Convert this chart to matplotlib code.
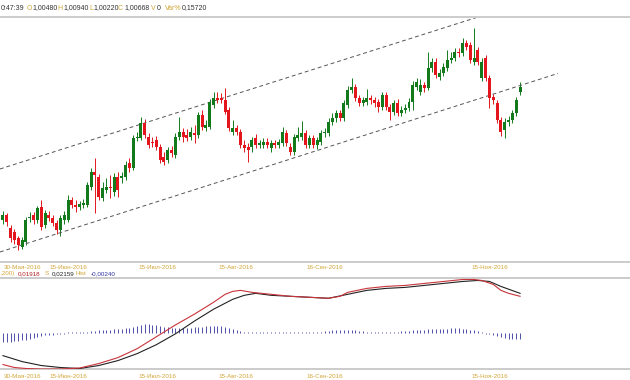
import numpy as np
import matplotlib.pyplot as plt

# candles: open, high, low, close (index points)
opens = [80, 85, 72, 68, 62, 53, 58, 82, 85, 80, 93, 75, 85, 82, 77, 70, 80, 80, 100, 95,
         93, 95, 95, 113, 128, 123, 102, 110, 113, 108, 123, 122, 123, 137, 132, 162, 162, 177, 163, 158,
         160, 153, 143, 140, 150, 145, 163, 168, 165, 163, 167, 165, 185, 172, 173, 195, 202, 202, 200, 190,
         168, 172, 168, 155, 153, 153, 162, 155, 155, 158, 152, 157, 155, 157, 167, 153, 148, 162, 163, 167,
         155, 162, 155, 158, 167, 167, 178, 182, 187, 182, 195, 210, 213, 202, 197, 198, 202, 200, 198, 193,
         205, 193, 188, 197, 187, 190, 192, 198, 213, 208, 215, 212, 232, 238, 223, 227, 232, 240, 242, 248,
         247, 257, 255, 238, 250, 222, 242, 222, 203, 197, 180, 170, 178, 180, 187, 208]
highs = [89, 87, 75, 71, 64, 63, 83, 88, 88, 94, 100, 90, 89, 85, 80, 85, 89, 105, 103, 100,
         99, 101, 118, 132, 142, 126, 118, 122, 125, 127, 128, 128, 139, 142, 165, 168, 183, 181, 167, 163,
         164, 156, 148, 153, 154, 167, 183, 172, 171, 173, 175, 188, 190, 180, 201, 208, 208, 207, 212, 193,
         180, 175, 171, 160, 157, 163, 166, 160, 162, 162, 160, 160, 161, 173, 170, 157, 166, 173, 179, 170,
         165, 165, 163, 170, 172, 182, 187, 190, 190, 200, 214, 222, 216, 205, 203, 211, 205, 203, 201, 208,
         208, 196, 200, 201, 194, 196, 202, 219, 222, 221, 218, 248, 242, 242, 231, 237, 250, 248, 252, 252,
         262, 260, 258, 272, 253, 242, 245, 225, 206, 200, 183, 182, 184, 190, 203, 218]
lows = [76, 74, 58, 56, 50, 51, 55, 78, 76, 77, 70, 72, 79, 74, 66, 64, 76, 78, 92, 88,
        90, 92, 93, 110, 87, 100, 99, 107, 102, 104, 103, 117, 120, 128, 130, 159, 160, 162, 152, 153,
        150, 137, 135, 137, 143, 142, 160, 158, 159, 160, 157, 162, 170, 169, 171, 192, 197, 197, 186, 169,
        165, 165, 152, 148, 138, 148, 152, 152, 152, 152, 148, 152, 152, 154, 154, 145, 145, 159, 160, 152,
        152, 152, 151, 155, 163, 164, 175, 178, 179, 179, 192, 207, 199, 194, 194, 195, 196, 193, 188, 190,
        190, 180, 185, 184, 184, 187, 189, 190, 210, 205, 208, 210, 228, 222, 220, 224, 229, 237, 239, 243,
        244, 250, 237, 235, 235, 219, 219, 192, 196, 177, 164, 162, 174, 177, 184, 205]
closes = [85, 78, 62, 60, 55, 60, 80, 83, 80, 92, 73, 87, 82, 77, 70, 82, 85, 100, 95, 93,
          96, 97, 115, 128, 125, 103, 112, 113, 112, 123, 110, 124, 135, 132, 162, 163, 177, 165, 155, 157,
          153, 140, 138, 150, 147, 163, 168, 163, 162, 168, 165, 185, 173, 175, 198, 202, 200, 200, 188, 172,
          172, 168, 155, 152, 150, 160, 155, 157, 158, 155, 157, 155, 158, 168, 157, 148, 163, 165, 167, 155,
          162, 155, 160, 167, 168, 178, 182, 187, 182, 197, 210, 213, 202, 197, 200, 202, 200, 197, 193, 205,
          193, 188, 197, 187, 190, 192, 198, 215, 218, 215, 212, 232, 238, 225, 227, 233, 240, 242, 248, 247,
          257, 253, 240, 242, 238, 238, 222, 202, 200, 180, 168, 178, 180, 187, 200, 213]

# trend channel (bar index, price)
upper_x = [-0.8, 123.8]
upper_y = [131, 282.7]
lower_x = [-0.8, 144.9]
lower_y = [48, 226.6]

# MACD panel
macd_idx = [0, 3, 6, 10, 15, 20, 25, 30, 35, 40, 45, 50, 55, 58, 60, 62, 65, 70, 75, 80,
            85, 88, 90, 95, 100, 105, 110, 115, 120, 123, 125, 128, 130, 132, 135]
macd_line = [-21, -24, -25, -25.5, -25.5, -24.5, -20, -14, -5, 7, 19, 30, 42, 50, 53, 54, 52, 50, 48, 47,
             46, 48, 52, 56, 58, 59, 61, 63, 65, 65, 64, 60, 54, 51, 48]
sig_idx = [0, 5, 10, 15, 20, 25, 30, 35, 40, 45, 50, 55, 60, 63, 66, 70, 75, 80, 85, 90,
           95, 100, 105, 110, 115, 120, 124, 127, 130, 135]
signal_line = [-12, -18, -22, -24, -25, -22, -17, -10, -1, 10, 23, 35, 45, 49, 51, 49, 48, 47, 46, 50,
               54, 56, 57, 59, 61, 63, 64, 63, 58, 51]
hist = [-9, -9, -9, -8, -8, -7, -7, -6, -5, -4,
        -3, -2, -2, -1.5, -1, -1, -1, 1, 1, 1,
        1, 1, 1.5, 2, 2.5, 3, 3, 3.5, 3.5, 4,
        4, 4.5, 5, 5, 6, 7, 8, 9, 9, 8.5,
        8, 7, 6.5, 6, 5.5, 5.5, 5, 5, 5.5, 5.5,
        6, 6, 6.5, 7, 7, 7.5, 7.5, 7, 6, 5,
        4, 3, 2, 1.5, 1, 1, 1, 1, 1, 1,
        1, 1, 1, 1, 1, 1, 1, 1, 1, 1,
        1, 1, 1, 1.5, 2, 2.5, 3, 3.5, 3.5, 3.5,
        3.5, 3.5, 3, 2.5, 2, 1.5, 1, 1, 1, 1,
        1, 1, 1, 1.5, 2, 2, 2.5, 3, 3, 3.5,
        3.5, 4, 4, 4, 4, 4.5, 4.5, 5, 5, 5,
        4.5, 4, 3.5, 3, 2, 1, -1, -1, -2, -3,
        -4, -5, -5.5, -6, -6, -6]

date_pos = [0, 12, 35, 56, 79, 122]
date_labels = ["30-Мая-2016", "15-Июн-2016", "15-Июл-2016", "15-Авг-2016", "16-Сен-2016", "15-Ноя-2016"]

W, H = 630, 380
GREEN = "#137a1c"
RED = "#e3161d"
GOLD = "#d2a73a"
FONT = "Liberation Sans"


def fy(py):
    return 1 - py / H


fig = plt.figure(figsize=(W / 100, H / 100), dpi=100)
ax = fig.add_axes([0, fy(262), 1, (262 - 17) / H])
mx = fig.add_axes([0, fy(369), 1, (369 - 278) / H])
hx = mx.twinx()

idx = np.arange(len(opens))
o, hi, lo, c = map(np.array, (opens, highs, lows, closes))
up = c >= o
col = np.where(up, GREEN, RED)

ax.vlines(idx, lo, hi, colors=col, linewidth=0.7, zorder=2)
ax.bar(idx, np.abs(c - o) + 0.6, bottom=np.minimum(o, c) - 0.3, width=0.78,
       color=col, linewidth=0, zorder=3)

ax.plot(upper_x, upper_y, color="#555555", linestyle=(0, (4, 3)), linewidth=0.7)
ax.plot(lower_x, lower_y, color="#555555", linestyle=(0, (4, 3)), linewidth=0.7)

ax.set_xlim(-0.78, 163.7)
ax.set_ylim(38, 283)

# histogram has its own scale
hx.vlines(idx, 0, hist, colors="#5050ac", linewidth=0.7)
hx.set_ylim(-36, 55)
mx.plot(sig_idx, signal_line, color="#222222", linewidth=0.8, zorder=3)
mx.plot(macd_idx, macd_line, color="#c8343a", linewidth=0.8, zorder=3)
mx.set_xlim(-0.78, 163.7)
mx.set_ylim(-25.5, 66.5)
mx.set_zorder(hx.get_zorder() + 1)
mx.patch.set_visible(False)

for a in (ax, mx, hx):
    a.set_xticks([])
    a.set_yticks([])
    for s in ("left", "right"):
        a.spines[s].set_visible(False)
    for s in ("top", "bottom"):
        a.spines[s].set_color("#cccccc")
        a.spines[s].set_linewidth(1.4)

# date labels under both panels
for p, lab in zip(date_pos, date_labels):
    px = (4 + 3.83 * p) / W
    fig.text(px, fy(267.5), lab, color=GOLD, fontsize=4.5, family=FONT, va="center")
    fig.text(px, fy(376), lab, color=GOLD, fontsize=4.5, family=FONT, va="center")

# quote header
header = [(1, "0:47:39", "#333333"), (27, "O", GOLD), (32, "1,00480", "#333333"),
          (57, "H", GOLD), (63, "1,00940", "#333333"), (89, "L", GOLD), (93, "1,00220", "#333333"),
          (118, "C", GOLD), (124, "1,00668", "#333333"), (151, "V", GOLD), (157, "0", "#333333"),
          (165, "Var%", GOLD), (182, "0,15720", "#333333")]
for px, t, cl in header:
    fig.text(px / W, fy(8), t, color=cl, fontsize=5, family=FONT, va="center")

macd_head = [(0, ",200)", GOLD), (18, "0,01918", "#b02020"), (45, "S", GOLD),
             (52, "0,02159", "#222222"), (76, "Hist", GOLD), (91, "-0,00240", "#3030a0")]
for px, t, cl in macd_head:
    fig.text(px / W, fy(273.5), t, color=cl, fontsize=4.5, family=FONT, va="center")

fig.savefig("out.png", dpi=100)
